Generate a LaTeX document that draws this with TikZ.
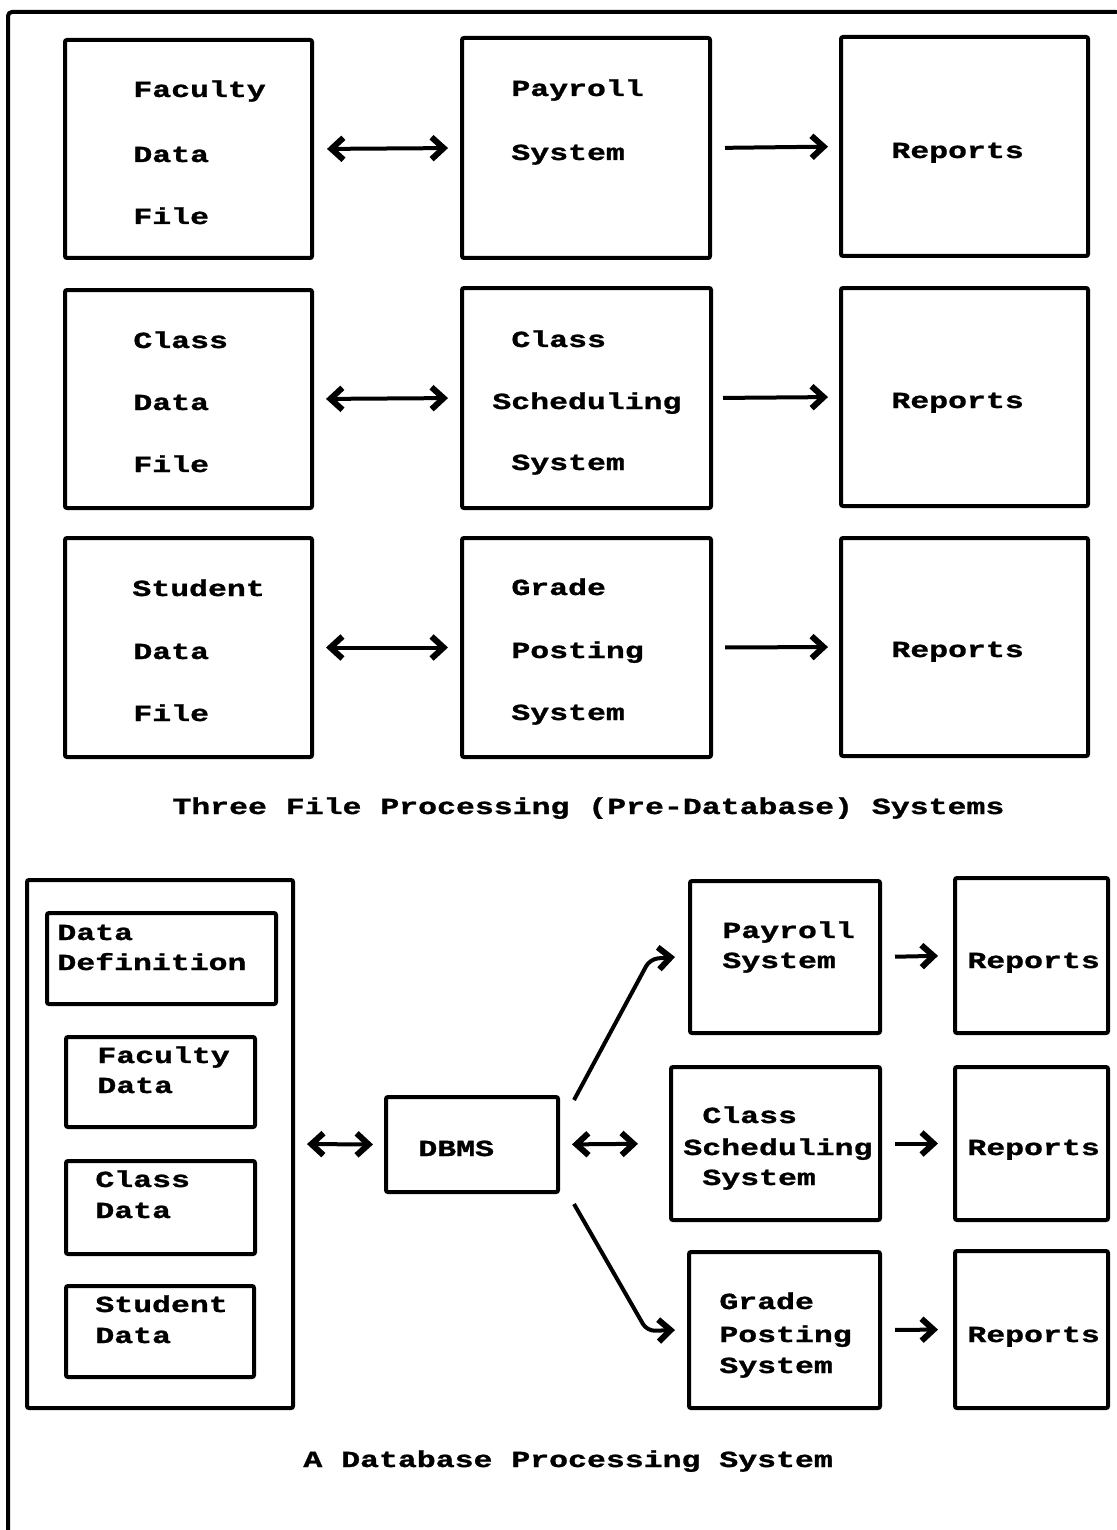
\documentclass[tikz,border=0pt]{standalone}
\usepackage{fontspec}
\newfontfamily\dm{Liberation Mono}[FakeStretch=1.37,FakeBold=1.2]
\usetikzlibrary{arrows.meta,fit}
\begin{document}
\begin{tikzpicture}[x=0.5pt,y=-0.5pt,
  box/.style={draw, line width=2pt, inner sep=0pt, rounded corners=1pt, fit={#1}},
  txt/.style={anchor=base west, inner sep=0pt, font={\dm\bfseries\fontsize{11.5pt}{12pt}\selectfont}},
  barb/.tip={Straight Barb[length=6pt,width=11pt,line width=3pt]},
  con/.style={line width=2pt, -barb},
  dcon/.style={line width=2pt, barb-barb},
  frame/.style={line width=2pt, line cap=round, line join=round}]
\useasboundingbox (0,0) rectangle (1116,1530);
% outer frame (left and top edges)
\coordinate (fr1) at (8,1530);
\coordinate (fr2) at (8,12);
\coordinate (fr3) at (1116,12);
\draw[frame, rounded corners=2pt] (fr1) -- (fr2) -- (fr3);

% ---------- Top: three file processing systems ----------
\node[box={(65,40) (312,258)}] (fa) {};
\node[box={(462,38) (710,258)}] (pa) {};
\node[box={(841,37) (1088,256)}] (ra) {};
\node[box={(65,290) (312,508)}] (fb) {};
\node[box={(462,288) (711,508)}] (pb) {};
\node[box={(841,288) (1088,506)}] (rb) {};
\node[box={(65,538) (312,757)}] (fc) {};
\node[box={(462,538) (711,757)}] (pc) {};
\node[box={(841,538) (1088,756)}] (rc) {};

\node[txt] (ta1) at (133,97) {Faculty};
\node[txt] (ta2) at (133,162) {Data};
\node[txt] (ta3) at (133,224) {File};
\node[txt] (tp1) at (511,96) {Payroll};
\node[txt] (tp2) at (511,160) {System};
\node[txt] (tr1) at (891,158) {Reports};

\node[txt] (tb1) at (133,348) {Class};
\node[txt] (tb2) at (133,410) {Data};
\node[txt] (tb3) at (133,472) {File};
\node[txt] (tq1) at (511,347) {Class};
\node[txt] (tq2) at (492,409) {Scheduling};
\node[txt] (tq3) at (511,470) {System};
\node[txt] (tr2) at (891,408) {Reports};

\node[txt] (tc1) at (132,596) {Student};
\node[txt] (tc2) at (133,659) {Data};
\node[txt] (tc3) at (133,721) {File};
\node[txt] (tg1) at (511,595) {Grade};
\node[txt] (tg2) at (511,658) {Posting};
\node[txt] (tg3) at (511,720) {System};
\node[txt] (tr3) at (891,657) {Reports};

\draw[dcon, shorten <=6.5pt, shorten >=6pt] (fa.east) -- (pa.west);
\draw[con, shorten <=6.5pt, shorten >=5.5pt] (pa.east) -- (ra.west);
\draw[dcon, shorten <=6pt, shorten >=6pt] (fb.east) -- (pb.west);
\draw[con, shorten <=5pt, shorten >=5.5pt] (pb.east) -- (rb.west);
\draw[dcon, shorten <=6pt, shorten >=6pt] (fc.east) -- (pc.west);
\draw[con, shorten <=6pt, shorten >=5.5pt] (pc.east) -- (rc.west);

\node[txt] (cap1) at (172,814) {Three File Processing (Pre-Database) Systems};

% ---------- Bottom: database processing system ----------
\node[box={(27,880) (293,1408)}] (db) {};
\node[box={(47,913) (276,1004)}] (dd) {};
\node[box={(66,1037) (255,1127)}] (fd) {};
\node[box={(66,1161) (255,1254)}] (cd) {};
\node[box={(66,1286) (254,1377)}] (sd) {};
\node[box={(386,1097) (558,1192)}] (dbms) {};
\node[box={(690,881) (880,1033)}] (pay) {};
\node[box={(671,1067) (880,1220)}] (cls) {};
\node[box={(689,1252) (880,1408)}] (grd) {};
\node[box={(955,878) (1108,1033)}] (r1) {};
\node[box={(955,1067) (1108,1220)}] (r2) {};
\node[box={(955,1251) (1108,1408)}] (r3) {};

\node[txt] (d1) at (57,940) {Data};
\node[txt] (d2) at (57,970) {Definition};
\node[txt] (f1) at (97,1063) {Faculty};
\node[txt] (f2) at (97,1093) {Data};
\node[txt] (c1) at (95,1187) {Class};
\node[txt] (c2) at (95,1218) {Data};
\node[txt] (s1) at (95,1312) {Student};
\node[txt] (s2) at (95,1343) {Data};
\node[txt] (m1) at (418,1156) {DBMS};
\node[txt] (y1) at (722,938) {Payroll};
\node[txt] (y2) at (722,968) {System};
\node[txt] (k1) at (702,1123) {Class};
\node[txt] (k2) at (683,1155) {Scheduling};
\node[txt] (k3) at (702,1185) {System};
\node[txt] (g1) at (719,1309) {Grade};
\node[txt] (g2) at (719,1342) {Posting};
\node[txt] (g3) at (719,1373) {System};
\node[txt] (rr1) at (967,968) {Reports};
\node[txt] (rr2) at (967,1155) {Reports};
\node[txt] (rr3) at (967,1342) {Reports};

\draw[dcon, shorten <=6pt, shorten >=5.5pt] (db.east) -- (dbms.west);
\draw[dcon, shorten <=6pt, shorten >=15.5pt] (dbms.east) -- (cls.west);
\draw[con, shorten <=6.5pt, shorten >=7.5pt] (pay.east) -- (r1.west);
\draw[con, shorten <=6.5pt, shorten >=7.5pt] (cls.east) -- (r2.west);
\draw[con, shorten <=6.5pt, shorten >=7.5pt] (grd.east) -- (r3.west);

\coordinate (bend1) at (650,959);
\coordinate (bend2) at (647,1331);
\draw[con, rounded corners=4pt] ([shift={(7pt,-2.5pt)}]dbms.north east) -- (bend1) -- ([xshift=-6.5pt]pay.west);
\draw[con, rounded corners=4pt] ([shift={(7pt,-5pt)}]dbms.south east) -- (bend2) -- ([xshift=-6pt]grd.west);

\node[txt] (cap2) at (303,1467) {A Database Processing System};
\end{tikzpicture}
\end{document}
